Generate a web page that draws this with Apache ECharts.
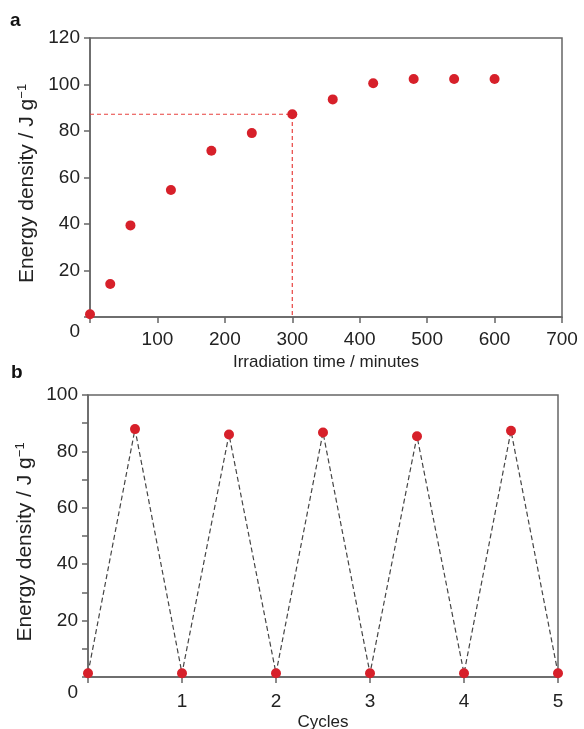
<!DOCTYPE html>
<html>
<head>
<meta charset="utf-8">
<script src="https://cdn.jsdelivr.net/npm/echarts@6/dist/echarts.min.js"></script>
<style>
html,body{margin:0;padding:0;background:#fff;}
#chart{width:584px;height:729px;}
</style>
</head>
<body>
<div id="chart"></div>
<script>
// Panel a: energy density vs irradiation time
const timeMin = [0, 30, 60, 120, 180, 240, 300, 360, 420, 480, 540, 600];
const energyA = [1.2, 14.2, 39.4, 54.6, 71.5, 79.1, 87.2, 93.6, 100.5, 102.4, 102.4, 102.4];
const guideTime = 300;
const guideEnergy = 87.2;
// Panel b: cycling
const cycleX = [0, 0.5, 1, 1.5, 2, 2.5, 3, 3.5, 4, 4.5, 5];
const energyB = [1.3, 87.9, 1.3, 86.0, 1.3, 86.7, 1.3, 85.4, 1.3, 87.3, 1.3];
const panelLabels = ['a', 'b'];
const xNameA = 'Irradiation time / minutes';
const xNameB = 'Cycles';
const yName = 'Energy density / J g{sup|\u22121}';

const FONT = 'Liberation Sans, Arial, Helvetica, sans-serif';
const TXT = '#222';
const AX = '#666';
const RED = '#d7202a';

function yLabelFmt(v) { return v === 0 ? '{z|0}' : (v % 20 === 0 ? String(v) : ''); }
function xLabelFmt(v) { return v === 0 ? '' : String(v); }

const axisLineStyle = { lineStyle: { color: AX, width: 1.5 } };
const tickStyle = { show: true, inside: false, length: 6, lineStyle: { color: AX, width: 1.5 } };
const nameStyle = {
  fontFamily: FONT, fontSize: 21, color: TXT, padding: [0, 12, 0, 0],
  rich: { sup: { fontFamily: FONT, fontSize: 13, color: TXT, verticalAlign: 'top', lineHeight: 21 } }
};
const xNameStyle = { fontFamily: FONT, fontSize: 17, color: TXT };

const chart = echarts.init(document.getElementById('chart'), null, { renderer: 'canvas' });
chart.setOption({
  animation: false,
  backgroundColor: '#fff',
  title: [
    { text: panelLabels[0], left: 5, top: 6, textStyle: { fontFamily: FONT, fontWeight: 'bold', fontSize: 19, color: '#111' } },
    { text: panelLabels[1], left: 6, top: 358, textStyle: { fontFamily: FONT, fontWeight: 'bold', fontSize: 19, color: '#111' } }
  ],
  grid: [
    { left: 90, top: 38, width: 472, height: 279, show: true, borderColor: AX, borderWidth: 1.5, outerBoundsMode: 'none', containLabel: false },
    { left: 88, top: 395, width: 470, height: 282, show: true, borderColor: AX, borderWidth: 1.5, outerBoundsMode: 'none', containLabel: false }
  ],
  xAxis: [
    {
      gridIndex: 0, type: 'value', min: 0, max: 700, interval: 100,
      axisLine: axisLineStyle, axisTick: tickStyle, splitLine: { show: false },
      axisLabel: { formatter: xLabelFmt, margin: 13, fontFamily: FONT, fontSize: 19, color: TXT },
      name: xNameA, nameLocation: 'middle', nameGap: 37, nameTextStyle: xNameStyle
    },
    {
      gridIndex: 1, type: 'value', min: 0, max: 5, interval: 1,
      axisLine: axisLineStyle, axisTick: tickStyle, splitLine: { show: false },
      axisLabel: { formatter: xLabelFmt, margin: 15, fontFamily: FONT, fontSize: 19, color: TXT },
      name: xNameB, nameLocation: 'middle', nameGap: 37, nameTextStyle: xNameStyle
    }
  ],
  yAxis: [
    {
      gridIndex: 0, type: 'value', min: 0, max: 120, interval: 20,
      axisLine: axisLineStyle, axisTick: tickStyle, splitLine: { show: false },
      axisLabel: { formatter: yLabelFmt, margin: 10, fontFamily: FONT, fontSize: 19, color: TXT,
        rich: { z: { fontFamily: FONT, fontSize: 19, color: TXT, padding: [30, 0, 0, 0] } } },
      name: yName, nameLocation: 'middle', nameGap: 43, nameRotate: 90, nameTextStyle: nameStyle
    },
    {
      gridIndex: 1, type: 'value', min: 0, max: 100, interval: 10,
      axisLine: axisLineStyle, axisTick: tickStyle, splitLine: { show: false },
      axisLabel: { formatter: yLabelFmt, margin: 10, fontFamily: FONT, fontSize: 19, color: TXT,
        rich: { z: { fontFamily: FONT, fontSize: 19, color: TXT, padding: [32, 0, 0, 0] } } },
      name: yName, nameLocation: 'middle', nameGap: 41, nameRotate: 90, nameTextStyle: nameStyle
    }
  ],
  series: [
    {
      type: 'line', xAxisIndex: 0, yAxisIndex: 0, symbol: 'none', silent: true,
      data: [[0, guideEnergy], [guideTime, guideEnergy], [guideTime, 0]],
      lineStyle: { color: '#e8413f', width: 1.2, type: [4, 3] }, z: 1
    },
    {
      type: 'scatter', xAxisIndex: 0, yAxisIndex: 0, symbol: 'circle', symbolSize: 10,
      data: timeMin.map((t, i) => [t, energyA[i]]),
      itemStyle: { color: RED, opacity: 1 }, z: 3
    },
    {
      type: 'line', xAxisIndex: 1, yAxisIndex: 1, symbol: 'circle', symbolSize: 10, showSymbol: true,
      data: cycleX.map((c, i) => [c, energyB[i]]),
      lineStyle: { color: '#444', width: 1.2, type: [5, 3] },
      itemStyle: { color: RED, opacity: 1 }, z: 3
    }
  ]
});
</script>
</body>
</html>
